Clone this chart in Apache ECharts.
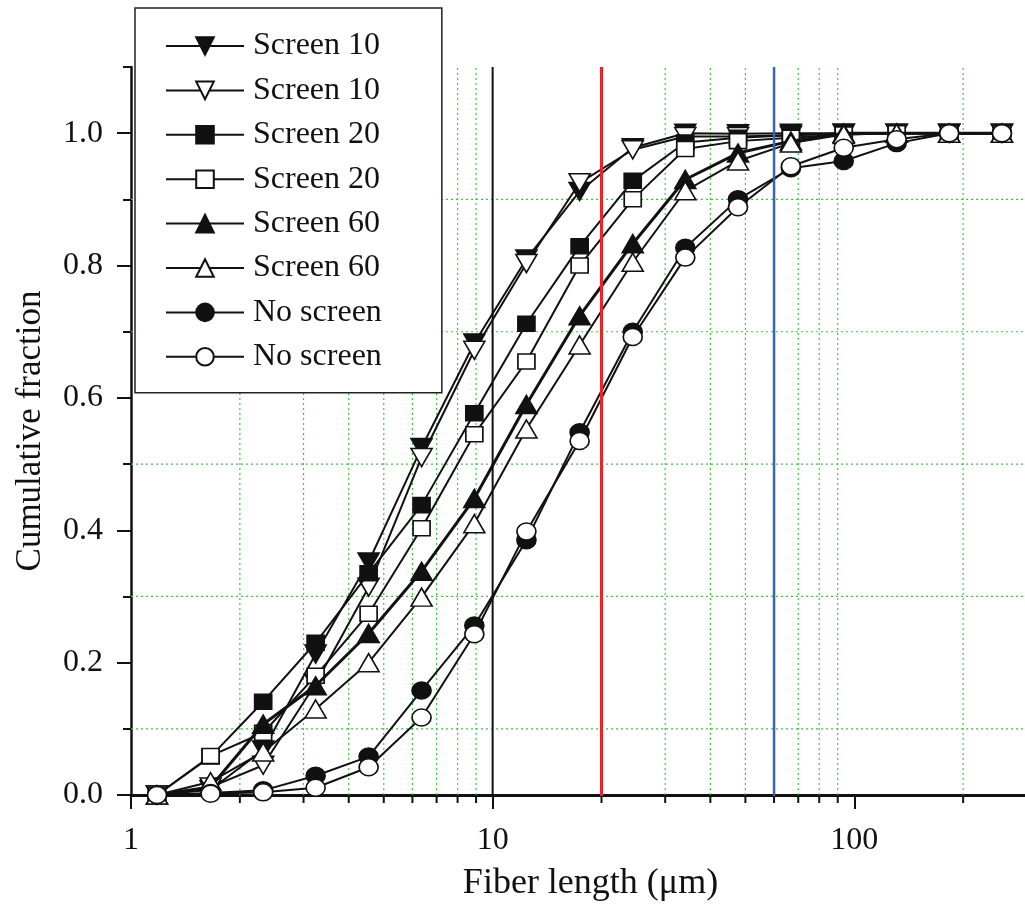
<!DOCTYPE html>
<html>
<head>
<meta charset="utf-8">
<title>Cumulative fiber length distribution</title>
<script src="https://cdn.jsdelivr.net/npm/echarts@6/dist/echarts.min.js"></script>
<style>
  html, body { margin: 0; padding: 0; background: #fff; overflow: hidden; }
  body { width: 1025px; height: 908px; }
  /* the plot runs on past the right edge of the page, as in a cropped figure */
  #chart { width: 1075px; height: 908px; }
</style>
</head>
<body>
<div id="chart"></div>
<script>
// Fiber length bins (µm) shared by every curve
const lengths = [1.18, 1.66, 2.32, 3.24, 4.54, 6.36, 8.9, 12.4, 17.4, 24.4, 34.1, 47.7, 66.8, 93.5, 131, 183, 256];

// Cumulative fraction for each curve
const screen10Solid  = [0, 0.008, 0.068, 0.213, 0.352, 0.525, 0.683, 0.810, 0.912, 0.978, 1.000, 0.999, 1.000, 1.000, 1.000, 1.000, 1.000];
const screen10Hollow = [0, 0.012, 0.045, 0.168, 0.314, 0.510, 0.672, 0.803, 0.925, 0.975, 0.995, 0.995, 0.997, 1.000, 1.000, 1.000, 1.000];
const screen20Solid  = [0, 0.058, 0.141, 0.230, 0.335, 0.438, 0.577, 0.712, 0.829, 0.928, 0.986, 0.993, 0.997, 1.000, 1.000, 1.000, 1.000];
const screen20Hollow = [0, 0.059, 0.094, 0.180, 0.274, 0.403, 0.545, 0.655, 0.800, 0.900, 0.976, 0.988, 0.993, 0.998, 1.000, 1.000, 1.000];
const screen60Solid  = [0, 0.012, 0.107, 0.165, 0.244, 0.338, 0.448, 0.590, 0.724, 0.833, 0.930, 0.970, 0.988, 1.000, 1.000, 1.000, 1.000];
const screen60Hollow = [0, 0.020, 0.065, 0.130, 0.200, 0.299, 0.410, 0.553, 0.680, 0.805, 0.913, 0.958, 0.985, 0.998, 1.000, 1.000, 1.000];
const noScreenSolid  = [0, 0.003, 0.007, 0.029, 0.058, 0.158, 0.256, 0.385, 0.548, 0.700, 0.827, 0.900, 0.947, 0.958, 0.985, 1.000, 1.000];
const noScreenHollow = [0, 0.002, 0.004, 0.011, 0.042, 0.117, 0.243, 0.398, 0.535, 0.692, 0.812, 0.888, 0.950, 0.978, 0.991, 1.000, 1.000];

// Axis ticks and labels
const majorX = [1, 10, 100];
const minorX = [2, 3, 4, 5, 6, 7, 8, 9, 20, 30, 40, 50, 60, 70, 80, 90, 200, 300];
const minorY = [0.1, 0.3, 0.5, 0.7, 0.9];
const majorY = [0, 0.2, 0.4, 0.6, 0.8, 1.0];

// Reference lengths marked by vertical lines
const refLines = [
  { x: 10, color: '#111111', width: 2 },
  { x: 20, color: '#ee2424', width: 3 },
  { x: 60, color: '#3d5fbf', width: 2.5 }
];

const FONT = '"Liberation Serif", "Times New Roman", serif';
const X_MIN = 1, X_MAX = 400, Y_MIN = 0, Y_MAX = 1.1;

function pairs(vals) { return lengths.map((x, i) => [x, vals[i]]); }

const curveDefs = [
  { name: 'Screen 10 (solid)',  vals: screen10Solid,  symbol: 'triangle', rotate: 180, fill: '#111', size: [21, 18], lw: 2 },
  { name: 'Screen 10 (hollow)', vals: screen10Hollow, symbol: 'triangle', rotate: 180, fill: '#fff', size: [21, 18], lw: 2 },
  { name: 'Screen 20 (solid)',  vals: screen20Solid,  symbol: 'rect',     rotate: 0,   fill: '#111', size: [17, 15], lw: 2 },
  { name: 'Screen 20 (hollow)', vals: screen20Hollow, symbol: 'rect',     rotate: 0,   fill: '#fff', size: [17, 15], lw: 2 },
  { name: 'Screen 60 (solid)',  vals: screen60Solid,  symbol: 'triangle', rotate: 0,   fill: '#111', size: [21, 18], lw: 3 },
  { name: 'Screen 60 (hollow)', vals: screen60Hollow, symbol: 'triangle', rotate: 0,   fill: '#fff', size: [21, 18], lw: 2 },
  { name: 'No screen (solid)',  vals: noScreenSolid,  symbol: 'circle',   rotate: 0,   fill: '#111', size: [19, 17], lw: 2 },
  { name: 'No screen (hollow)', vals: noScreenHollow, symbol: 'circle',   rotate: 0,   fill: '#fff', size: [19, 17], lw: 2 }
];

const curveSeries = curveDefs.map((d, i) => ({
  name: d.name,
  type: 'line',
  data: pairs(d.vals),
  symbol: d.symbol,
  symbolRotate: d.rotate,
  symbolSize: d.size,
  showAllSymbol: true,
  z: 10 + i,
  itemStyle: { color: d.fill, borderColor: '#111', borderWidth: 1.6 },
  lineStyle: { color: '#111', width: d.lw },
  emphasis: { disabled: true }
}));

const gridGreen = { stroke: '#3cc83c', lineWidth: 1.2, lineDash: [2, 3] };

// Dotted grid lines at the minor x positions plus the minor x ticks below the axis
const minorXSeries = {
  type: 'custom',
  name: 'minor-x',
  clip: false,
  silent: true,
  z: 2,
  data: minorX.map(v => [v, Y_MIN]),
  encode: { x: 0, y: 1 },
  renderItem: (params, api) => {
    const v = api.value(0);
    const bottom = api.coord([v, Y_MIN]);
    const top = api.coord([v, Y_MAX]);
    return {
      type: 'group',
      children: [
        { type: 'line', shape: { x1: bottom[0], y1: bottom[1], x2: top[0], y2: top[1] }, style: gridGreen },
        { type: 'line', shape: { x1: bottom[0], y1: bottom[1], x2: bottom[0], y2: bottom[1] + 8 }, style: { stroke: '#111', lineWidth: 2 } }
      ]
    };
  }
};

// Dotted horizontal grid lines at the minor y positions
const minorYSeries = {
  type: 'custom',
  name: 'minor-y',
  clip: false,
  silent: true,
  z: 2,
  data: minorY.map(v => [X_MIN, v]),
  encode: { x: 0, y: 1 },
  renderItem: (params, api) => {
    const v = api.value(1);
    const a = api.coord([X_MIN, v]);
    const b = api.coord([X_MAX, v]);
    return { type: 'line', shape: { x1: a[0], y1: a[1], x2: b[0], y2: b[1] }, style: gridGreen };
  }
};

// Vertical reference lines at 10, 20 and 60 µm
const refSeries = {
  type: 'custom',
  name: 'ref-lines',
  clip: false,
  silent: true,
  z: 30,
  data: refLines.map(r => [r.x, Y_MIN]),
  encode: { x: 0, y: 1 },
  renderItem: (params, api) => {
    const r = refLines[params.dataIndex];
    const b = api.coord([r.x, Y_MIN]);
    const t = api.coord([r.x, Y_MAX]);
    return { type: 'line', shape: { x1: b[0], y1: b[1] + 1, x2: t[0], y2: t[1] }, style: { stroke: r.color, lineWidth: r.width } };
  }
};

const chart = echarts.init(document.getElementById('chart'), null, { renderer: 'canvas' });

const logAxisBase = { type: 'log', logBase: 10, min: X_MIN, max: X_MAX };

chart.setOption({
  animation: false,
  backgroundColor: '#fff',
  grid: { left: 131, right: 0, top: 67, bottom: 113, show: false },
  legend: {
    orient: 'vertical',
    left: 135, top: 8,
    padding: [22, 60, 20, 30],
    itemWidth: 78, itemHeight: 22, itemGap: 12.4,
    backgroundColor: '#fff',
    borderColor: '#222', borderWidth: 1.5,
    selectedMode: false,
    data: curveDefs.map(d => d.name),
    formatter: name => name.replace(/ \((solid|hollow)\)$/, ''),
    textStyle: { fontFamily: FONT, fontSize: 32, lineHeight: 30, color: '#111', padding: [0, 0, 0, 4] },
    z: 50
  },
  xAxis: [
    Object.assign({}, logAxisBase, {
      position: 'bottom',
      name: 'Fiber length (\u03bcm)',
      nameLocation: 'middle', nameGap: 71,
      nameTextStyle: { fontFamily: FONT, fontSize: 36, color: '#111', padding: [0, 22, 0, 0] },
      axisLine: { lineStyle: { color: '#111', width: 2.5 } },
      axisTick: { inside: false, length: 14, lineStyle: { color: '#111', width: 2 } },
      axisLabel: {
        margin: 30, fontFamily: FONT, fontSize: 32, color: '#111',
        formatter: v => {
          const hit = majorX.find(m => Math.abs(v - m) / m < 1e-6);
          return hit !== undefined ? String(hit) : '';
        }
      },
      splitLine: { show: false },
      minorTick: { show: false }
    }),
    Object.assign({}, logAxisBase, {
      position: 'top',
      axisLine: { show: true, lineStyle: { color: '#111', width: 3 } },
      axisTick: { show: false },
      axisLabel: { show: false },
      splitLine: { show: false }
    })
  ],
  yAxis: [
    {
      type: 'value', min: Y_MIN, max: Y_MAX, interval: 0.2,
      name: 'Cumulative fraction',
      nameLocation: 'middle', nameGap: 83,
      nameTextStyle: { fontFamily: FONT, fontSize: 35, color: '#111' },
      axisLine: { show: true, lineStyle: { color: '#111', width: 2.5 } },
      axisTick: { inside: false, length: 14, lineStyle: { color: '#111', width: 2 }, customValues: majorY },
      axisLabel: {
        margin: 28, fontFamily: FONT, fontSize: 32, color: '#111', customValues: majorY,
        formatter: v => (v > 1.05 ? '' : v.toFixed(1))
      },
      splitLine: { show: false }
    },
    {
      type: 'value', min: Y_MIN, max: Y_MAX, interval: 0.1, position: 'left',
      axisLine: { show: false },
      axisTick: { inside: false, length: 8, lineStyle: { color: '#111', width: 2 } },
      axisLabel: { show: false },
      splitLine: { show: false }
    }
  ],
  series: [minorXSeries, minorYSeries].concat(curveSeries, [refSeries])
});
</script>
</body>
</html>
